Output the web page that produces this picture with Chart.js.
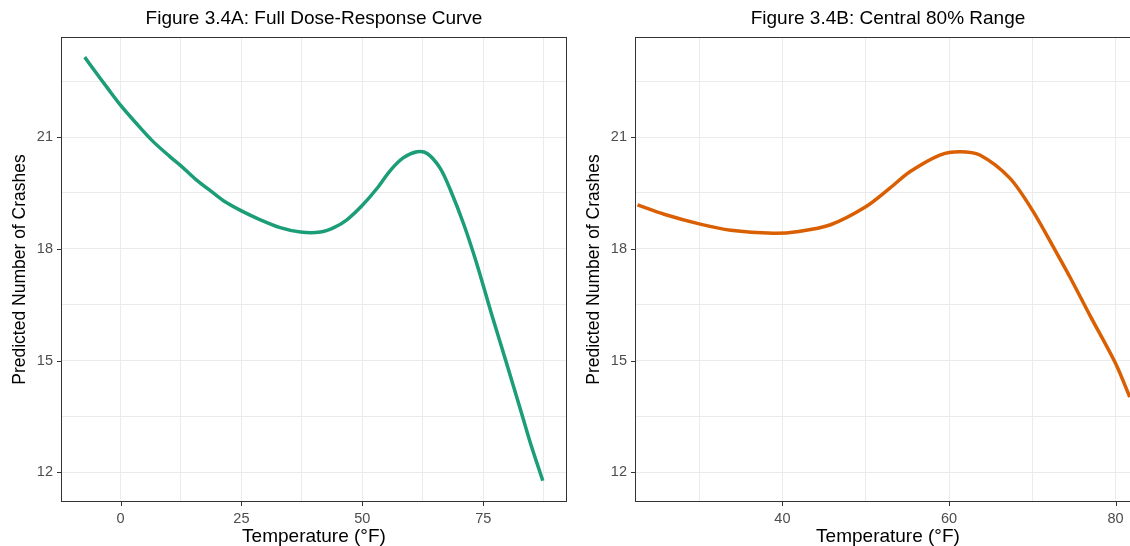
<!DOCTYPE html>
<html>
<head>
<meta charset="utf-8">
<script src="https://cdn.jsdelivr.net/npm/chart.js@4.4.1/dist/chart.umd.min.js"></script>
<style>
  html, body { margin: 0; padding: 0; background: #fff; overflow: hidden; }
  body { width: 1130px; height: 546px; position: relative; }
  .panel { position: absolute; top: 0; width: 575px; height: 546px; }
  #panelA { left: 0; }
  #panelB { left: 574px; }
</style>
</head>
<body>
<div class="panel" id="panelA"><canvas id="chartA" width="575" height="546"></canvas></div>
<div class="panel" id="panelB"><canvas id="chartB" width="575" height="546"></canvas></div>
<script>
// Panel A: full temperature range
const tempA = [-7.4, -5.5, -2.75, 0, 3.2, 6.6, 10.1, 12.5, 15.6, 19.1, 21.8, 25, 28.9, 33, 37.2, 41.3,
  44.1, 46.8, 50, 53, 55.8, 58.5, 61.3, 63.4, 66.1, 68.2, 70.9, 73.6, 76.7, 79.8, 82.6, 84.7, 87.3];
const crashesA = [23.15, 22.81, 22.33, 21.86, 21.38, 20.9, 20.49, 20.23, 19.86, 19.51, 19.25, 19.02, 18.78, 18.57, 18.45, 18.45,
  18.57, 18.78, 19.17, 19.62, 20.11, 20.45, 20.61, 20.56, 20.16, 19.58, 18.68, 17.62, 16.25, 14.93, 13.72, 12.8, 11.77];

// Panel B: central 80% of temperatures
const tempB = [22.6, 25.8, 30, 33.8, 38.9, 41.7, 45.7, 50, 52.9, 55.3, 58.9, 61.3, 63.7, 67.3, 70, 72.7,
  74.5, 76.9, 80, 81.7];
const crashesB = [19.18, 18.93, 18.67, 18.5, 18.42, 18.46, 18.64, 19.13, 19.63, 20.07, 20.52, 20.61, 20.52, 19.9, 19.04, 17.98,
  17.25, 16.22, 14.92, 14.02];

const yMajor = [12, 15, 18, 21];
const yMinor = [13.5, 16.5, 19.5, 22.5];
const xMajorA = [0, 25, 50, 75];
const xMinorA = [12.5, 37.5, 62.5, 87.5];
const xMajorB = [40, 60, 80];
const xMinorB = [30, 50, 70];

const FONT = '"Liberation Sans", Arial, sans-serif';

// ggplot-style panel box plus short tick marks at the labelled values
const panelBorder = {
  id: 'panelBorder',
  afterDatasetsDraw(chart, args, opts) {
    const a = chart.chartArea;
    const ctx = chart.ctx;
    const xs = chart.scales.x;
    const ys = chart.scales.y;
    ctx.save();
    ctx.strokeStyle = '#333333';
    ctx.lineWidth = 1;
    ctx.strokeRect(a.left + 0.5, a.top + 0.5, a.right - a.left - 1, a.bottom - a.top - 1);
    ctx.beginPath();
    (opts.xMajor || []).forEach(v => {
      const px = Math.round(xs.getPixelForValue(v)) + 0.5;
      ctx.moveTo(px, a.bottom);
      ctx.lineTo(px, a.bottom + 4);
    });
    yMajor.forEach(v => {
      const py = Math.round(ys.getPixelForValue(v)) + 0.5;
      ctx.moveTo(a.left, py);
      ctx.lineTo(a.left - 4, py);
    });
    ctx.stroke();
    ctx.restore();
  }
};

const grid = { color: '#ebebeb', lineWidth: 1, drawTicks: false };

function makeChart(id, temps, crashes, color, title, xMin, xMax, xMajor, xMinor) {
  return new Chart(document.getElementById(id), {
    type: 'line',
    data: {
      datasets: [{
        data: temps.map((t, i) => ({ x: t, y: crashes[i] })),
        borderColor: color,
        borderWidth: 3.5,
        pointRadius: 0,
        tension: 0.3,
        fill: false
      }]
    },
    options: {
      responsive: false,
      animation: false,
      devicePixelRatio: 1,
      layout: { padding: { left: 0, right: 8, top: 0, bottom: 0 } },
      plugins: {
        legend: { display: false },
        tooltip: { enabled: false },
        panelBorder: { xMajor: xMajor },
        title: {
          display: true,
          text: title,
          fullSize: false,
          color: '#000',
          font: { family: FONT, size: 19, weight: 'normal', lineHeight: 1.2 },
          padding: { top: 7, bottom: 7.2 }
        }
      },
      scales: {
        x: {
          type: 'linear',
          min: xMin,
          max: xMax,
          afterBuildTicks: s => { s.ticks = xMajor.concat(xMinor).sort((a, b) => a - b).map(v => ({ value: v })); },
          afterFit: s => { s.height = 44; },
          border: { display: false },
          grid: grid,
          ticks: {
            autoSkip: false,
            maxRotation: 0,
            padding: 8,
            color: '#4d4d4d',
            font: { family: FONT, size: 14.5 },
            callback: v => xMajor.includes(v) ? String(v) : ''
          },
          title: {
            display: true,
            text: 'Temperature (°F)',
            color: '#000',
            font: { family: FONT, size: 19, lineHeight: 1 },
            padding: { top: 0, bottom: 0 }
          }
        },
        y: {
          min: 11.2,
          max: 23.69,
          afterBuildTicks: s => { s.ticks = yMajor.concat(yMinor).sort((a, b) => a - b).map(v => ({ value: v })); },
          afterFit: s => { s.width = 61; },
          border: { display: false },
          grid: grid,
          ticks: {
            autoSkip: false,
            padding: 8,
            color: '#4d4d4d',
            font: { family: FONT, size: 14.5 },
            callback: v => yMajor.includes(v) ? String(v) : ''
          },
          title: {
            display: true,
            text: 'Predicted Number of Crashes',
            color: '#000',
            font: { family: FONT, size: 17.5, lineHeight: 1 },
            padding: { top: 11, bottom: 0 }
          }
        }
      }
    },
    plugins: [panelBorder]
  });
}

makeChart('chartA', tempA, crashesA, '#1b9e77', 'Figure 3.4A: Full Dose-Response Curve', -12.3, 92.3, xMajorA, xMinorA);
makeChart('chartB', tempB, crashesB, '#d95f02', 'Figure 3.4B: Central 80% Range', 22.3, 83.05, xMajorB, xMinorB);
</script>
</body>
</html>
